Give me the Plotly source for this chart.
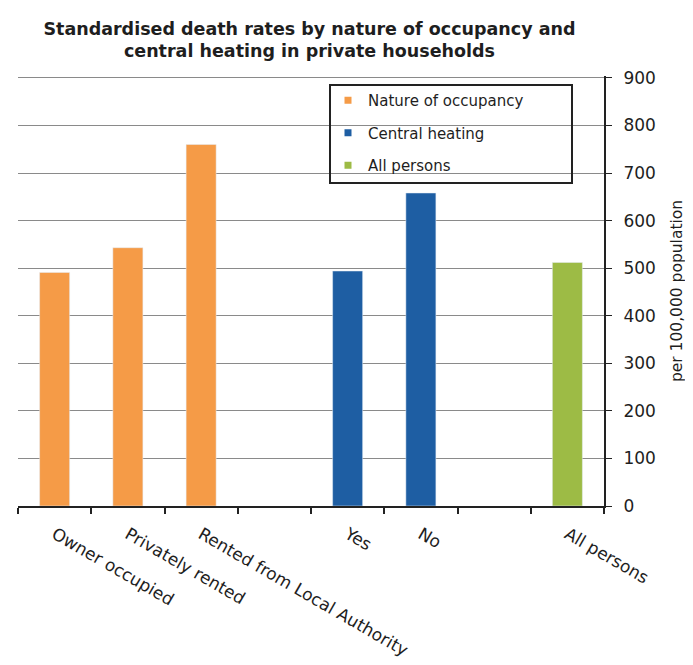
import plotly.graph_objects as go

categories = ["Owner occupied", "Privately rented", "Rented from Local Authority", " ",
              "Yes", "No", "  ", "All persons"]
occupancy_labels = ["Owner occupied", "Privately rented", "Rented from Local Authority"]
occupancy_values = [491, 543, 760]
heating_labels = ["Yes", "No"]
heating_values = [494, 658]
all_labels = ["All persons"]
all_values = [512]
y_ticks = [0, 100, 200, 300, 400, 500, 600, 700, 800, 900]

colors = {"occ": "#F59B47", "heat": "#1E5EA3", "all": "#9DBB45"}
FONT = "DejaVu Sans, Arial, sans-serif"
TXT = "#1e1e1e"

fig = go.Figure()
series = [
    (occupancy_labels, occupancy_values, "Nature of occupancy", colors["occ"], "a"),
    (heating_labels, heating_values, "Central heating", colors["heat"], "b"),
    (all_labels, all_values, "All persons", colors["all"], "c"),
]
for xs, ys, name, col, grp in series:
    fig.add_trace(go.Bar(x=xs, y=ys, name=name, marker_color=col, width=0.41,
                         legendgroup=grp, showlegend=False))
    # legend entry with small square marker (as in the original legend)
    fig.add_trace(go.Scatter(x=[None], y=[None], mode="markers", name=name,
                             marker=dict(symbol="square", size=7, color=col),
                             legendgroup=grp, showlegend=True))

# page body has an 8px margin; plot area sits at page px 18..604 x 76..506
PH = 430.0
fig.update_layout(
    width=693, height=665,
    margin=dict(l=10, r=97, t=68, b=167, autoexpand=False),
    paper_bgcolor="white", plot_bgcolor="white",
    barmode="overlay",
    font=dict(family=FONT, size=14, color=TXT),
    title=dict(text="<b>Standardised death rates by nature of occupancy and<br>central heating in private households</b>",
               x=0.435, xanchor="center", y=0.96, yanchor="top",
               font=dict(family=FONT, size=17.5, color=TXT)),
    legend=dict(x=(328 - 18) / 586, y=(506 - 84) / PH, xanchor="left", yanchor="top",
                bgcolor="rgba(0,0,0,0)", borderwidth=0,
                traceorder="grouped", tracegroupgap=10,
                font=dict(family=FONT, size=15, color=TXT),
                itemwidth=30),
    showlegend=True,
    shapes=[dict(type="rect", xref="paper", yref="paper",
                 x0=(330 - 18) / 586, x1=(572 - 18) / 586,
                 y0=(506 - 183) / PH, y1=(506 - 85) / PH,
                 line=dict(color="#222", width=2), fillcolor="rgba(0,0,0,0)")],
)

fig.update_xaxes(
    type="category", categoryorder="array", categoryarray=categories,
    range=[-0.5, 7.5],
    tickson="boundaries", ticks="outside", ticklen=6, tickcolor="#222", tickwidth=1.5,
    showline=True, linecolor="#222", linewidth=2,
    tickangle=30, ticklabelstandoff=10,
    tickfont=dict(family=FONT, size=17, color=TXT),
    showgrid=False, automargin=False,
)
fig.update_yaxes(
    side="right", range=[0, 904], tickvals=y_ticks,
    showline=True, linecolor="#222", linewidth=2,
    ticks="outside", ticklen=6, tickcolor="#222", ticklabelstandoff=8,
    showgrid=True, gridcolor="#8a8a8a", gridwidth=1,
    tickfont=dict(family=FONT, size=17, color=TXT),
    title=dict(text="per 100,000 population", font=dict(family=FONT, size=15.5, color=TXT), standoff=16),
    zeroline=False, automargin=False,
)

fig.write_html("out.html")
